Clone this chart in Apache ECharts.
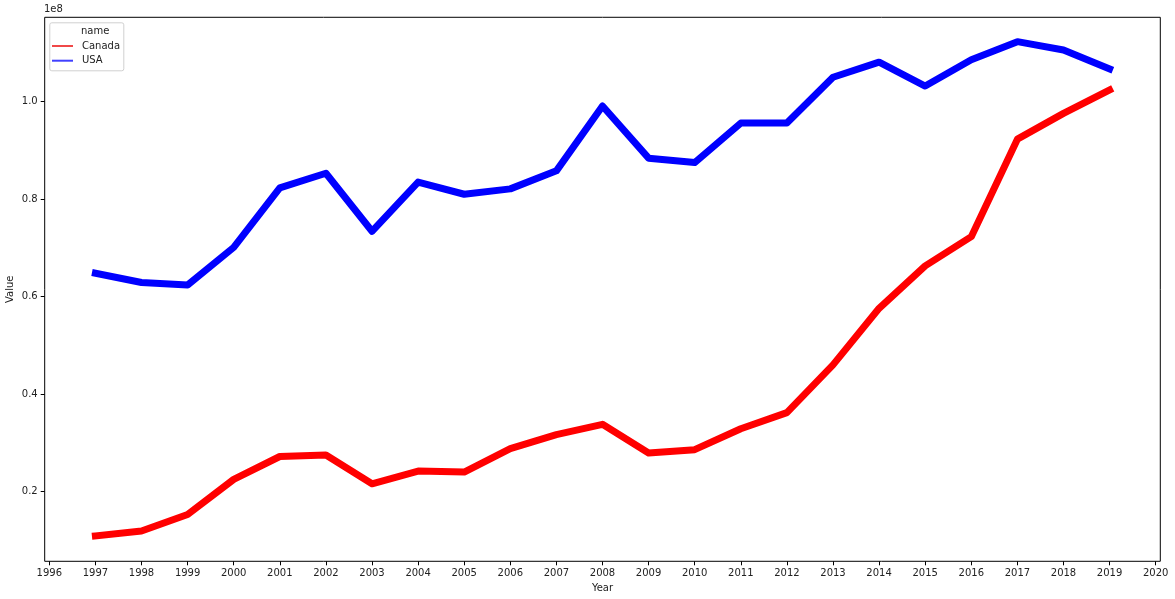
<!DOCTYPE html>
<html>
<head>
<meta charset="utf-8">
<script src="https://cdn.jsdelivr.net/npm/echarts@6/dist/echarts.min.js"></script>
<style>
  html, body { margin: 0; padding: 0; background: #fff; }
  #main { width: 1175px; height: 599px; }
</style>
</head>
<body>
<div id="main"></div>
<script>
// values
const years = [1997, 1998, 1999, 2000, 2001, 2002, 2003, 2004, 2005, 2006, 2007, 2008,
  2009, 2010, 2011, 2012, 2013, 2014, 2015, 2016, 2017, 2018, 2019]
const canada = [10.9e6, 11.9e6, 15.3e6, 22.5e6, 27.2e6, 27.5e6, 21.6e6, 24.2e6, 24.0e6, 28.8e6,
  31.7e6, 33.8e6, 27.9e6, 28.6e6, 32.9e6, 36.2e6, 46.0e6, 57.6e6, 66.3e6, 72.3e6, 92.3e6,
  97.6e6, 102.4e6]
const usa = [64.8e6, 62.9e6, 62.4e6, 70.1e6, 82.3e6, 85.3e6, 73.4e6, 83.5e6, 81.0e6, 82.1e6,
  85.8e6, 99.1e6, 88.4e6, 87.5e6, 95.6e6, 95.6e6, 105.0e6, 108.1e6, 103.2e6, 108.6e6,
  112.3e6, 110.6e6, 106.7e6]

// tick labels
const xTicks = [1996, 1997, 1998, 1999, 2000, 2001, 2002, 2003, 2004, 2005, 2006, 2007, 2008,
  2009, 2010, 2011, 2012, 2013, 2014, 2015, 2016, 2017, 2018, 2019, 2020]
const yTicks = [0.2e8, 0.4e8, 0.6e8, 0.8e8, 1.0e8]

const font = 'DejaVu Sans'
const ink = '#222'

function pairs(xs, ys) {
  return xs.map((x, i) => [x, ys[i]])
}

const chart = echarts.init(document.getElementById('main'), null, { renderer: 'canvas' })

const option = {
  animation: false,
  backgroundColor: '#fff',
  textStyle: { fontFamily: font },
  grid: {
    left: 44.7,
    right: 14.7,
    top: 17.3,
    bottom: 37.7,
    outerBoundsMode: 'none',
    containLabel: false,
    show: true,
    borderColor: '#000',
    borderWidth: 1,
    backgroundColor: 'transparent'
  },
  xAxis: {
    type: 'value',
    min: 1995.9,
    max: 2020.1,
    name: 'Year',
    nameLocation: 'middle',
    nameGap: 22,
    nameMoveOverlap: false,
    nameTextStyle: { color: ink, fontSize: 10, fontFamily: font },
    axisLine: { show: false },
    axisTick: { show: true, length: 4, lineStyle: { color: '#000' }, customValues: xTicks },
    axisLabel: {
      color: ink, fontSize: 10, fontFamily: font, margin: 7,
      customValues: xTicks,
      formatter: v => String(v)
    },
    splitLine: { show: false }
  },
  yAxis: {
    type: 'value',
    min: 0.057e8,
    max: 1.173e8,
    name: 'Value',
    nameLocation: 'middle',
    nameGap: 29,
    nameMoveOverlap: false,
    nameRotate: 90,
    nameTextStyle: { color: ink, fontSize: 10, fontFamily: font },
    axisLine: { show: false },
    axisTick: { show: true, length: 4, lineStyle: { color: '#000' }, customValues: yTicks },
    axisLabel: {
      color: ink, fontSize: 10, fontFamily: font, margin: 7,
      customValues: yTicks,
      formatter: v => (v / 1e8).toFixed(1)
    },
    splitLine: { show: false }
  },
  legend: {
    orient: 'vertical',
    left: 52,
    top: 41,
    z: 20,
    itemWidth: 21,
    itemHeight: 10,
    itemGap: 4.7,
    padding: 0,
    icon: 'path://M0,4 L21,4 L21,6 L0,6 Z',
    textStyle: { color: ink, fontSize: 10, fontFamily: font, padding: [0, 0, 0, 4] },
    data: [
      { name: 'Canada', itemStyle: { color: '#f04848' } },
      { name: 'USA', itemStyle: { color: '#4040ff' } }
    ]
  },
  graphic: [
    {
      type: 'rect',
      left: 49.3,
      top: 22.3,
      shape: { width: 74, height: 48, r: 2 },
      style: { fill: '#fff', stroke: '#d0d0d0', lineWidth: 1 },
      z: 5
    },
    {
      type: 'text',
      left: 81,
      top: 26,
      style: { text: 'name', fill: ink, font: '10px "DejaVu Sans"' },
      z: 100
    },
    {
      type: 'text',
      left: 44,
      top: 4,
      style: { text: '1e8', fill: ink, font: '10px "DejaVu Sans"' },
      z: 100
    }
  ],
  series: [
    {
      name: 'Canada',
      type: 'line',
      data: pairs(years, canada),
      symbol: 'none',
      color: '#ff0000',
      lineStyle: { width: 7, color: '#ff0000', cap: 'square', join: 'round' }
    },
    {
      name: 'USA',
      type: 'line',
      data: pairs(years, usa),
      symbol: 'none',
      color: '#0000ff',
      lineStyle: { width: 7, color: '#0000ff', cap: 'square', join: 'round' }
    }
  ]
}

chart.setOption(option)
</script>
</body>
</html>
